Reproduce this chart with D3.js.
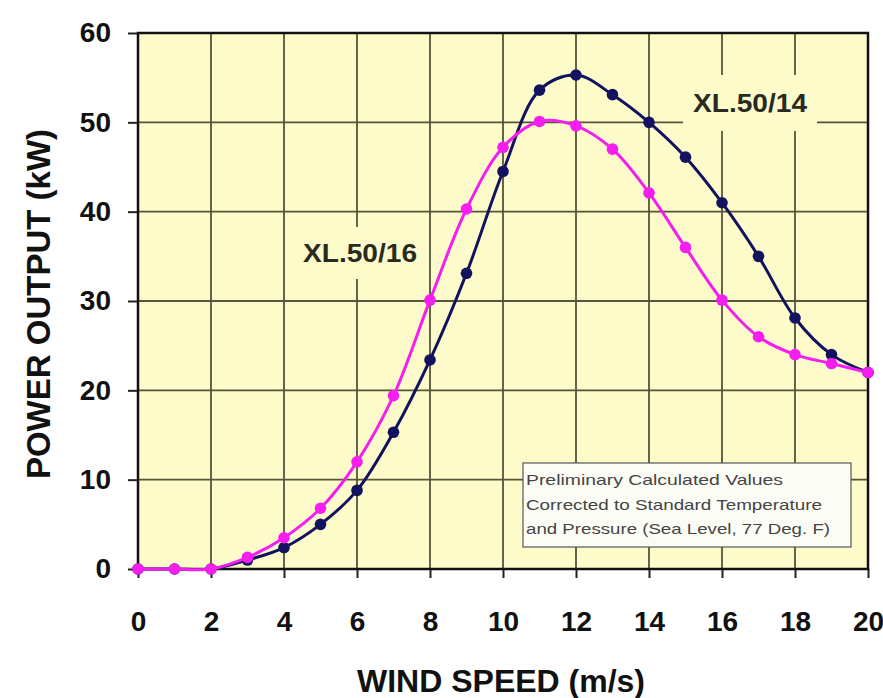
<!DOCTYPE html>
<html>
<head>
<meta charset="utf-8">
<script src="https://cdn.jsdelivr.net/npm/d3@7"></script>
<style>
  body { margin: 0; background: #fff; }
  svg { display: block; font-family: "Liberation Sans", Arial, sans-serif; }
</style>
</head>
<body>
<svg id="chart" width="883" height="698"></svg>
<script>
// wind speed (m/s)
const windSpeed = [0,1,2,3,4,5,6,7,8,9,10,11,12,13,14,15,16,17,18,19,20]
// power output (kW) per turbine
const xl5014 = [0,0,0,1.0,2.4,5.0,8.8,15.3,23.4,33.1,44.5,53.6,55.3,53.1,50.0,46.1,41.0,35.0,28.1,24.0,22.0]
const xl5016 = [0,0,0,1.3,3.5,6.8,12.0,19.4,30.1,40.3,47.2,50.1,49.6,47.0,42.1,36.0,30.1,26.0,24.0,23.0,22.0]
const xTicks = [0,2,4,6,8,10,12,14,16,18,20]
const yTicks = [0,10,20,30,40,50,60]
const noteLines = ["Preliminary  Calculated Values", "Corrected to Standard Temperature", "and Pressure (Sea Level, 77 Deg. F)"]

const svg = d3.select('#chart')
const plotLeft = 138, plotRight = 868, plotTop = 33, plotBottom = 569

let x = d3.scaleLinear().domain([0, 20]).range([plotLeft, plotRight])
let y = d3.scaleLinear().domain([0, 60]).range([plotBottom, plotTop])

//plot background
svg.append('rect')
    .attr('x', plotLeft).attr('y', plotTop)
    .attr('width', plotRight - plotLeft).attr('height', plotBottom - plotTop)
    .attr('fill', '#fdfbc9')

//grid lines
let grid = svg.append('g').attr('stroke', '#56543a').attr('stroke-width', 1.8)
grid.selectAll('.vgrid').data(xTicks.slice(1, -1)).join('line')
    .attr('x1', d => x(d)).attr('x2', d => x(d))
    .attr('y1', plotTop).attr('y2', plotBottom)
grid.selectAll('.hgrid').data(yTicks.slice(1, -1)).join('line')
    .attr('y1', d => y(d)).attr('y2', d => y(d))
    .attr('x1', plotLeft).attr('x2', plotRight)

//series labels sit on yellow patches that cover the grid
function seriesLabel(text, cx, cy, w, h) {
    svg.append('rect')
        .attr('x', cx - w / 2).attr('y', cy - h / 2)
        .attr('width', w).attr('height', h)
        .attr('fill', '#fdfbc9')
    svg.append('text')
        .attr('x', cx - 57).attr('y', cy + 9)
        .attr('font-size', 25).attr('font-weight', 'bold').attr('fill', '#2a2a22')
        .attr('textLength', 114).attr('lengthAdjust', 'spacingAndGlyphs')
        .text(text)
}
seriesLabel('XL.50/14', 750, 103, 134, 56)
seriesLabel('XL.50/16', 360, 253, 126, 52)

//axes
let xAxis = d3.axisBottom(x).tickValues(xTicks).tickSize(9).tickPadding(33)
let yAxis = d3.axisLeft(y).tickValues(yTicks).tickSize(10).tickPadding(17)
svg.append('g').attr('transform', `translate(0,${plotBottom})`).call(xAxis)
    .call(g => g.select('.domain').remove())
svg.append('g').attr('transform', `translate(${plotLeft},0)`).call(yAxis)
    .call(g => g.select('.domain').remove())
svg.selectAll('.tick line').attr('stroke', '#222').attr('stroke-width', 2)
svg.selectAll('.tick text')
    .attr('font-family', '"Liberation Sans", Arial, sans-serif')
    .attr('font-size', 28).attr('font-weight', 'bold').attr('fill', '#111')

//frame
svg.append('rect')
    .attr('x', plotLeft).attr('y', plotTop)
    .attr('width', plotRight - plotLeft).attr('height', plotBottom - plotTop)
    .attr('fill', 'none').attr('stroke', '#111').attr('stroke-width', 2.5)

//note box
let note = svg.append('g')
note.append('rect')
    .attr('x', 523).attr('y', 463).attr('width', 328).attr('height', 84)
    .attr('fill', '#fcfcf6').attr('stroke', '#555').attr('stroke-width', 1.2)
note.selectAll('text').data(noteLines).join('text')
    .attr('x', 526).attr('y', (d, i) => 485 + i * 24.5)
    .attr('font-size', 15).attr('fill', '#444')
    .attr('textLength', (d, i) => [257, 296, 304][i])
    .attr('lengthAdjust', 'spacingAndGlyphs')
    .text(d => d)

//series
let line = d3.line().curve(d3.curveCatmullRom.alpha(0.5))
let series = [
    { name: 'XL.50/14', values: xl5014, color: '#12125e' },
    { name: 'XL.50/16', values: xl5016, color: '#f51ef0' }
]
series.forEach(s => {
    let pts = windSpeed.map((w, i) => [x(w), y(s.values[i])])
    let g = svg.append('g')
    g.append('path')
        .attr('d', line(pts))
        .attr('fill', 'none').attr('stroke', s.color).attr('stroke-width', 3)
    g.selectAll('circle').data(pts).join('circle')
        .attr('cx', d => d[0]).attr('cy', d => d[1]).attr('r', 5.8)
        .attr('fill', s.color)
})

//axis titles
svg.append('text')
    .attr('x', 501).attr('y', 692)
    .attr('text-anchor', 'middle')
    .attr('font-size', 32).attr('font-weight', 'bold').attr('fill', '#111')
    .text('WIND SPEED (m/s)')
svg.append('text')
    .attr('transform', 'translate(50,304) rotate(-90)')
    .attr('text-anchor', 'middle')
    .attr('font-size', 33).attr('font-weight', 'bold').attr('fill', '#111')
    .text('POWER OUTPUT (kW)')
</script>
</body>
</html>
